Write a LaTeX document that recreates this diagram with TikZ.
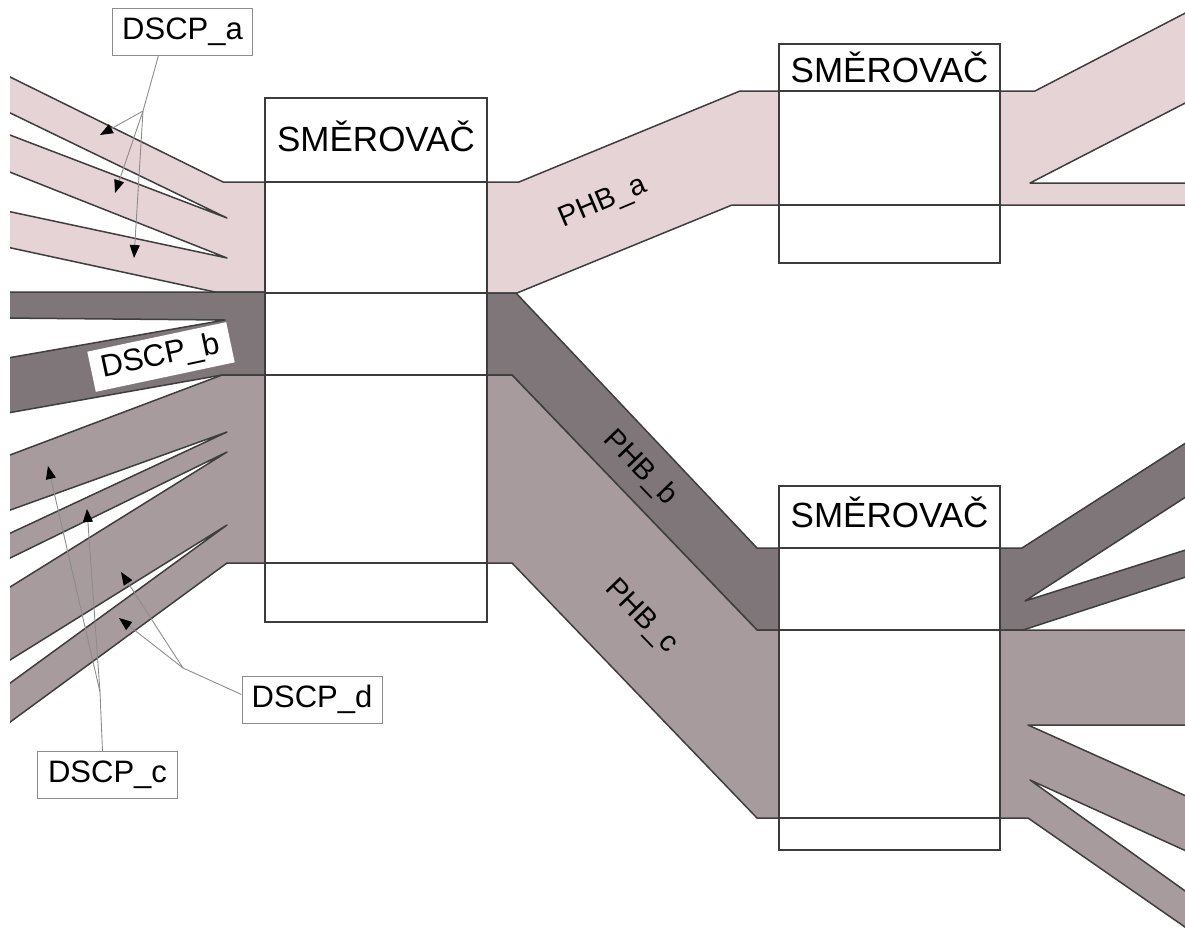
\documentclass[tikz,border=0pt]{standalone}
\usepackage{fontspec}
\setmainfont{Liberation Sans}
\usetikzlibrary{arrows.meta}
\definecolor{bandA}{RGB}{230,211,213}
\definecolor{bandB}{RGB}{127,118,121}
\definecolor{bandC}{RGB}{167,155,157}
\definecolor{edgec}{RGB}{62,62,62}
\definecolor{boxline}{RGB}{60,60,60}
\definecolor{leadc}{RGB}{140,140,140}
\begin{document}
\begin{tikzpicture}[x=1pt,y=-1pt,
  band/.style={draw=edgec, line width=1.5pt, line join=round},
  router/.style={draw=boxline, fill=white, line width=1.8pt, inner sep=0pt},
  rline/.style={draw=boxline, line width=1.8pt},
  rtitle/.style={font=\fontsize{35}{40}\selectfont, anchor=base, inner sep=0pt},
  dscp/.style={draw=leadc, line width=0.9pt, fill=white, minimum width=140pt, minimum height=47pt, inner sep=0pt, font=\fontsize{31}{36}\selectfont},
  dscpb/.style={fill=white, minimum width=142pt, minimum height=41pt, inner sep=0pt, font=\fontsize{31}{36}\selectfont},
  phb/.style={font=\fontsize{29}{34}\selectfont, inner sep=0pt},
  leader/.style={draw=leadc, line width=0.9pt},
  tipline/.style={leader, -{Triangle[length=13pt,width=10pt,color=black,fill=black]}}
]
\useasboundingbox (0,0) rectangle (1185,927);

\begin{scope}
\clip (10,0) rectangle (1185,927);
% ---- left side bands
\filldraw[band, fill=bandA] (2,73) -- (223,182) -- (265,182) -- (265,292) -- (215,292) -- (2,246) -- (2,210) -- (227,258) -- (2,169) -- (2,132) -- (227,218) -- (2,109) -- cycle;
\filldraw[band, fill=bandB] (2,292) -- (265,292) -- (265,375) -- (222,375) -- (2,414) -- (2,359) -- (225,320) -- (2,318) -- cycle;
\filldraw[band, fill=bandC] (2,458) -- (222,375) -- (265,375) -- (265,563) -- (227,563) -- (2,728) -- (2,689) -- (227,525) -- (2,665) -- (2,592) -- (227,452) -- (2,562) -- (2,537) -- (227,432) -- (2,513) -- cycle;
% ---- middle bands
\filldraw[band, fill=bandA] (487,182) -- (519,182) -- (740,91) -- (779,91) -- (779,205) -- (732,205) -- (517,293) -- (487,293) -- cycle;
\filldraw[band, fill=bandB] (487,293) -- (516,293) -- (757,548) -- (779,548) -- (779,630) -- (757,630) -- (512,375) -- (487,375) -- cycle;
\filldraw[band, fill=bandC] (487,375) -- (512,375) -- (757,630) -- (779,630) -- (779,818) -- (757,818) -- (512,563) -- (487,563) -- cycle;
% ---- right side bands
\filldraw[band, fill=bandA] (1000,91) -- (1035,91) -- (1195,8) -- (1195,98) -- (1030,183) -- (1195,183) -- (1195,205) -- (1000,205) -- cycle;
\filldraw[band, fill=bandB] (1000,548) -- (1022,548) -- (1195,437) -- (1195,491) -- (1025,601) -- (1195,547) -- (1195,574) -- (1023,630) -- (1000,630) -- cycle;
\filldraw[band, fill=bandC] (1000,630) -- (1195,630) -- (1195,725) -- (1028,725) -- (1195,800) -- (1195,855) -- (1030,780) -- (1195,898) -- (1195,934) -- (1028,818) -- (1000,818) -- cycle;
\end{scope}

% ---- routers
\node[router, minimum width=222pt, minimum height=524pt] (r1) at (376,360) {};
\draw[rline] (r1.west |- 0,182) -- (r1.east |- 0,182);
\draw[rline] (r1.west |- 0,293) -- (r1.east |- 0,293);
\draw[rline] (r1.west |- 0,375) -- (r1.east |- 0,375);
\draw[rline] (r1.west |- 0,563) -- (r1.east |- 0,563);
\node[rtitle] (t1) at (376,151) {SMĚROVAČ};

\node[router, minimum width=221pt, minimum height=219pt] (r2) at (889.5,153.5) {};
\draw[rline] (r2.west |- 0,91) -- (r2.east |- 0,91);
\draw[rline] (r2.west |- 0,205) -- (r2.east |- 0,205);
\node[rtitle] (t2) at (889.5,82) {SMĚROVAČ};

\node[router, minimum width=221pt, minimum height=364pt] (r3) at (889.5,668) {};
\draw[rline] (r3.west |- 0,548) -- (r3.east |- 0,548);
\draw[rline] (r3.west |- 0,630) -- (r3.east |- 0,630);
\draw[rline] (r3.west |- 0,818) -- (r3.east |- 0,818);
\node[rtitle] (t3) at (889.5,527) {SMĚROVAČ};

% ---- PHB labels
\node[phb, rotate=23] (pa) at (603,203) {PHB\_a};
\node[phb, rotate=-46] (pb) at (640,468) {PHB\_b};
\node[phb, rotate=-46] (pc) at (641,617) {PHB\_c};

% ---- DSCP labels
\node[dscp] (a) at (182.5,31.5) {DSCP\_a};
\node[dscpb, rotate=12] (b) at (161,357) {DSCP\_b};
\node[dscp] (c) at (107.5,775) {DSCP\_c};
\node[dscp] (d) at (312,699.5) {DSCP\_d};

% ---- leaders
\coordinate (ja) at (143,111);
\coordinate (ta1) at (100,135);
\coordinate (ta2) at (115,193);
\coordinate (ta3) at (134,258);
\draw[leader] ([xshift=-24pt]a.south) -- (ja);
\draw[tipline] (ja) -- (ta1);
\draw[tipline] (ja) -- (ta2);
\draw[tipline] (ja) -- (ta3);

\coordinate (jc) at (100,692);
\coordinate (tc1) at (48,466);
\coordinate (tc2) at (87,509);
\draw[leader] ([xshift=-5pt]c.north) -- (jc);
\draw[tipline] (jc) -- (tc1);
\draw[tipline] (jc) -- (tc2);

\coordinate (jd) at (183,668);
\coordinate (td1) at (121,572);
\coordinate (td2) at (119,618);
\draw[leader] ([yshift=5pt]d.west) -- (jd);
\draw[tipline] (jd) -- (td1);
\draw[tipline] (jd) -- (td2);
\end{tikzpicture}
\end{document}
